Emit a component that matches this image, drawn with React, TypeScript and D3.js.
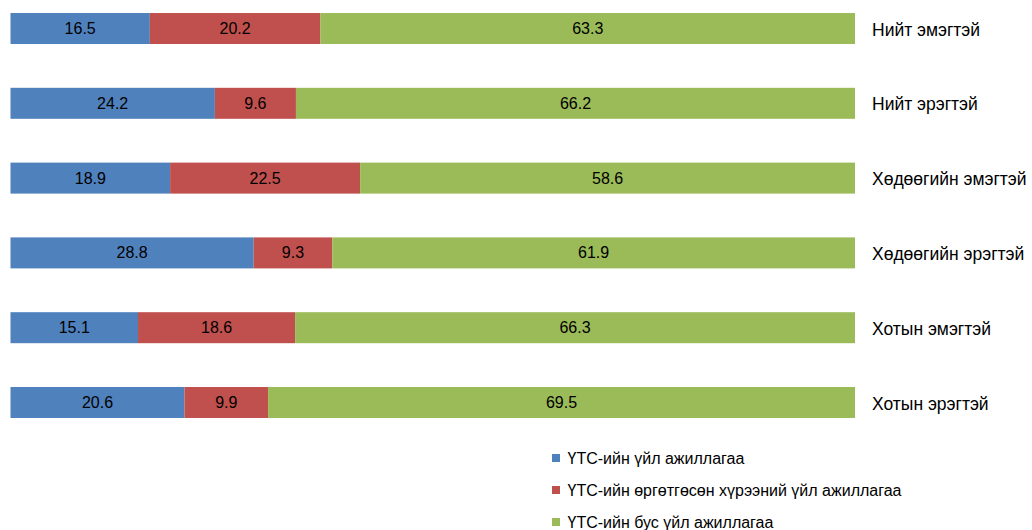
import React from "react";
import * as d3 from "d3";

const categories = [
  "Нийт эмэгтэй",
  "Нийт эрэгтэй",
  "Хөдөөгийн эмэгтэй",
  "Хөдөөгийн эрэгтэй",
  "Хотын эмэгтэй",
  "Хотын эрэгтэй",
];
const seriesNames = [
  "ҮТС-ийн үйл ажиллагаа",
  "ҮТС-ийн өргөтгөсөн хүрээний үйл ажиллагаа",
  "ҮТС-ийн бус үйл ажиллагаа",
];
const s1 = [16.5, 24.2, 18.9, 28.8, 15.1, 20.6];
const s2 = [20.2, 9.6, 22.5, 9.3, 18.6, 9.9];
const s3 = [63.3, 66.2, 58.6, 61.9, 66.3, 69.5];
const colors = ["#4F81BD", "#C0504D", "#9BBB59"];

export default function App() {
  const W = 1032, H = 530;
  const font = "Arial, 'Liberation Sans', sans-serif";
  const x = d3.scaleLinear().domain([0, 100]).range([10.5, 855]);
  const y = d3.scaleBand().domain(categories).range([0, 431]).paddingInner(0.5856).paddingOuter(0.174);
  const rows = categories.map((c, i) => ({ c, v: [s1[i], s2[i], s3[i]] }));
  return (
    <svg width={W} height={H} style={{ position: "absolute", left: 0, top: 0, fontFamily: font }}>
      <rect width={W} height={H} fill="#fff" />
      {rows.map((r, i) => {
        let acc = 0;
        const y0 = y(r.c)!;
        return (
          <g key={i}>
            {r.v.map((v, j) => {
              const a = acc;
              acc += v;
              const x0 = x(a), x1 = x(acc);
              return (
                <g key={j}>
                  <rect x={x0} y={y0} width={x1 - x0} height={y.bandwidth()} fill={colors[j]} />
                  <text x={(x0 + x1) / 2} y={y0 + y.bandwidth() / 2} dy="0.35em" textAnchor="middle" fontSize={16} fill="#000">
                    {v.toFixed(1)}
                  </text>
                </g>
              );
            })}
            <text x={872} y={y0 + y.bandwidth() / 2 + 1} dy="0.35em" fontSize={17.5} fill="#000">{r.c}</text>
          </g>
        );
      })}
      {seriesNames.map((s, j) => (
        <g key={j} transform={`translate(552,${458 + j * 32})`}>
          <rect x={0} y={-4} width={8} height={8} fill={colors[j]} />
          <text x={15.5} y={0} dy="0.35em" fontSize={16} fill="#000">{s}</text>
        </g>
      ))}
    </svg>
  );
}
